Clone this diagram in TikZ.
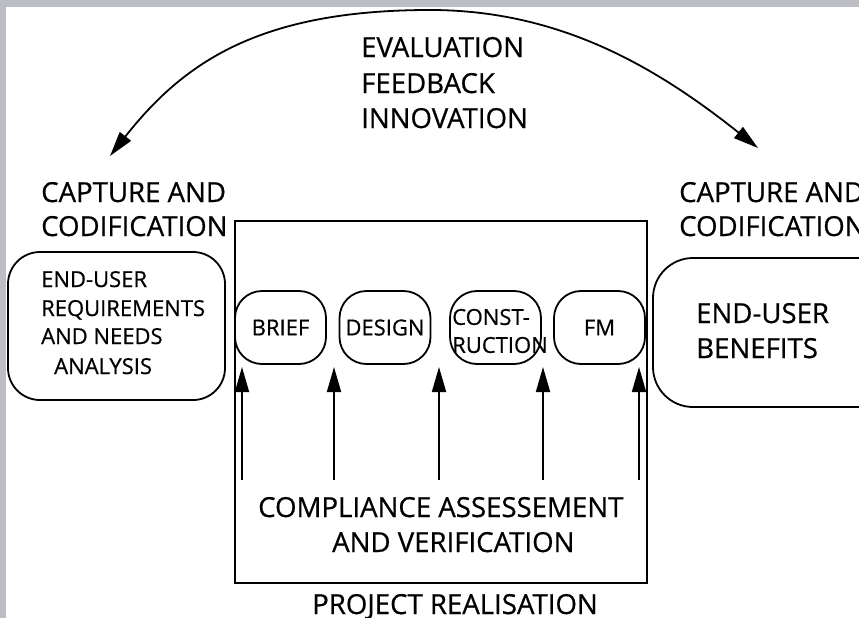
\documentclass[tikz,border=0pt]{standalone}
\usepackage{fontspec}
\setmainfont{Open Sans}[FakeBold=0.6]
\usetikzlibrary{arrows.meta}
\definecolor{bandgray}{RGB}{189,190,195}
\begin{document}
\begin{tikzpicture}[x=1pt,y=-1pt,
  biglbl/.style={inner sep=0pt, anchor=base west, font=\fontsize{27.6}{32}\selectfont},
  smlbl/.style={inner sep=0pt, anchor=base west, font=\fontsize{22}{26}\selectfont},
  stagebox/.style={draw, line width=1.8pt, rounded corners=27pt, minimum width=91pt, minimum height=73pt, inner sep=0pt, font=\fontsize{22}{28}\selectfont},
  bigbox/.style={draw, line width=1.8pt, inner sep=0pt},
  arr/.style={-{Triangle[length=25pt,width=14pt]}, line width=1.8pt},
  arcarr/.style={{Triangle[length=25pt,width=14pt]}-{Triangle[length=25pt,width=14pt]}, line width=1.8pt}
]
\useasboundingbox (0,0) rectangle (859,618);
\clip (0,0) rectangle (859,618);
\fill[bandgray] (0,0) rectangle (859,618);
\fill[white] (6,7) rectangle (859,618);

% project realisation frame
\node[bigbox, minimum width=412pt, minimum height=362pt] (frame) at (441,402) {};

% side boxes
\node[bigbox, rounded corners=32pt, minimum width=217pt, minimum height=148pt] (reqbox) at (116.5,326) {};
\node[bigbox, rounded corners=40pt, minimum width=247pt, minimum height=149pt] (benbox) at (776.5,332.5) {};

% stage boxes
\node[stagebox] (brief) at (280.5,327.5) {BRIEF};
\node[stagebox] (design) at (385,327.5) {DESIGN};
\node[stagebox] (constr) at (495.5,327.5) {};
\node[stagebox] (fm) at (599.5,327.5) {FM};
\node[inner sep=0pt, align=left, font=\fontsize{22}{28}\selectfont] (constlbl) at (500,331) {CONST-\\RUCTION};

% arc
\coordinate (arcL) at (110,156);
\coordinate (arcTop) at (430,10);
\coordinate (arcR) at (758,148);
\draw[arcarr] (arcL) .. controls (184,62) and (260,10) .. (arcTop) .. controls (560,10) and (656.6,67.4) .. (arcR);

% compliance arrows
\foreach \i/\x in {1/242,2/334,3/439,4/543,5/639}{
  \coordinate (b\i) at (\x,480);
  \coordinate (t\i) at (\x,367);
  \draw[arr] (b\i) -- (t\i);
}

% labels
\node[biglbl] (eval1) at (361,57) {EVALUATION};
\node[biglbl] (eval2) at (361,93) {FEEDBACK};
\node[biglbl] (eval3) at (361,128) {INNOVATION};
\node[biglbl] (capL1) at (41,202) {CAPTURE AND};
\node[biglbl] (capL2) at (41,236) {CODIFICATION};
\node[biglbl] (capR1) at (679,202) {CAPTURE AND};
\node[biglbl] (capR2) at (679,236) {CODIFICATION};
\node[smlbl] (req1) at (41,287) {END-USER};
\node[smlbl] (req2) at (41,316) {REQUIREMENTS};
\node[smlbl] (req3) at (41,344) {AND NEEDS};
\node[smlbl] (req4) at (54,374) {ANALYSIS};
\node[biglbl] (ben1) at (696,323) {END-USER};
\node[biglbl] (ben2) at (696,358) {BENEFITS};
\node[biglbl] (comp1) at (258,517) {COMPLIANCE ASSESSEMENT};
\node[biglbl] (comp2) at (332,552) {AND VERIFICATION};
\node[biglbl] (proj) at (312,614) {PROJECT REALISATION};
\end{tikzpicture}
\end{document}
